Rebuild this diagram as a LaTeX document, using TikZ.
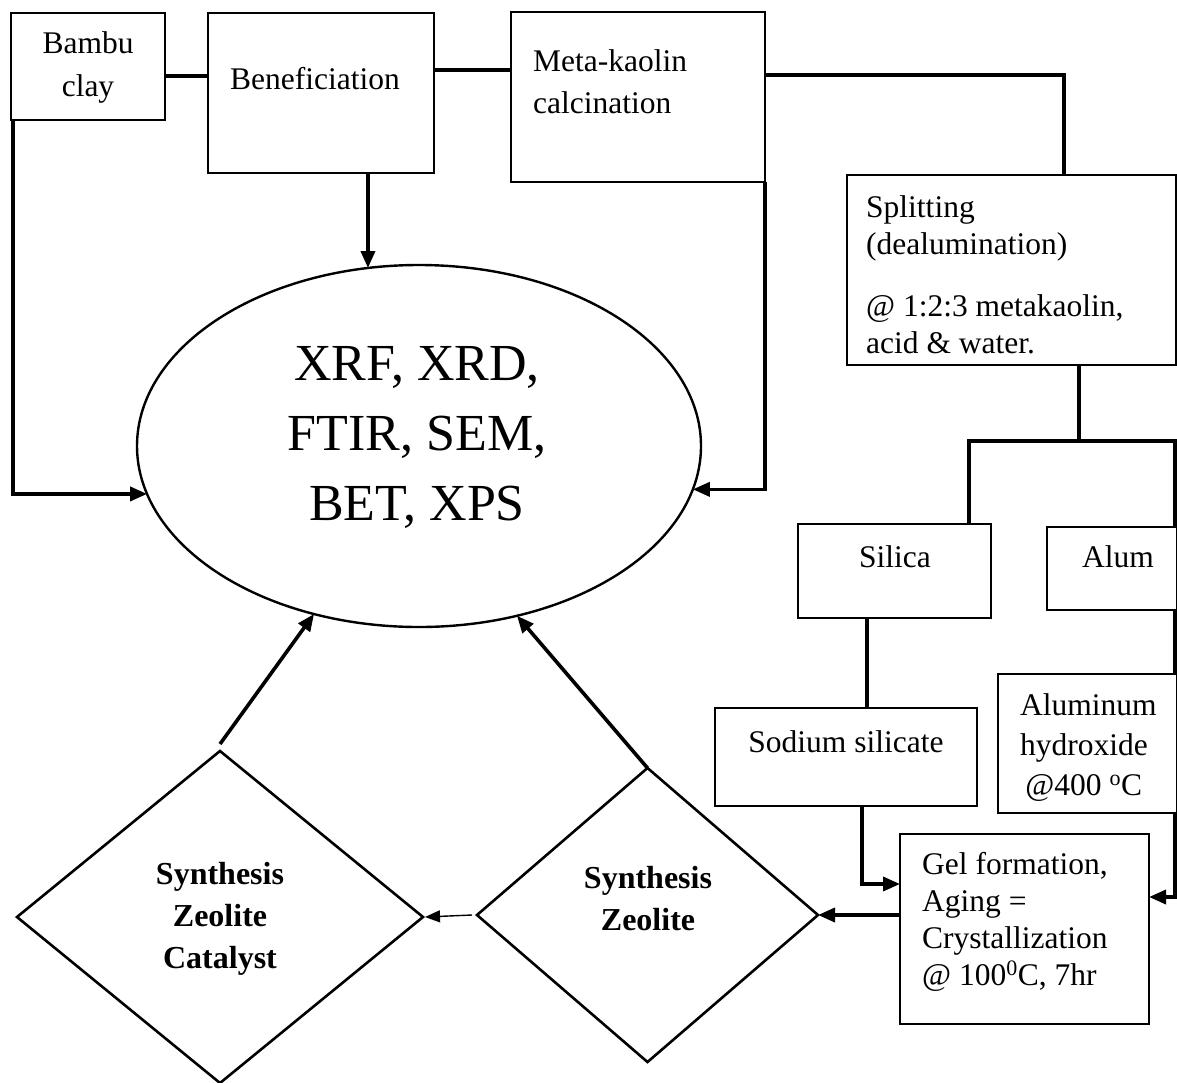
\documentclass[tikz,border=0pt]{standalone}
\usepackage{fontspec}
\setmainfont{Liberation Serif}
\usetikzlibrary{shapes.geometric,arrows.meta}
\begin{document}
\begin{tikzpicture}[x=1pt,y=-1pt,
  box/.style={draw, line width=2.6pt, rectangle, inner sep=0pt, outer sep=0pt},
  conn/.style={line width=3.6pt},
  arr/.style={line width=3.6pt, -{Triangle[length=17pt,width=14pt]}},
  tarr/.style={line width=1.4pt, -{Triangle[length=15pt,width=12pt]}},
  txt/.style={inner sep=0pt, font=\fontsize{31.5}{37}\selectfont},
  btxt/.style={inner sep=0pt, font=\fontsize{32}{42}\selectfont\bfseries},
  dia/.style={draw, diamond, line width=2.6pt, inner sep=0pt, outer sep=0pt},
]
\useasboundingbox (0,0) rectangle (1177,1082);

% boxes
\node[box, minimum width=154, minimum height=107] (bambu) at (88,66.5) {};
\node[box, minimum width=226, minimum height=160] (ben) at (321,93) {};
\node[box, minimum width=254, minimum height=170] (meta) at (638,97) {};
\node[box, minimum width=329, minimum height=190] (split) at (1011.5,270) {};
\node[box, minimum width=193, minimum height=94] (silica) at (894.5,571) {};
\node[box, minimum width=130, minimum height=83] (alum) at (1112,568.5) {};
\node[box, minimum width=262, minimum height=98] (sodium) at (846,757) {};
\node[box, minimum width=179, minimum height=139] (alhyd) at (1087.5,743.5) {};
\node[box, minimum width=249, minimum height=190] (gel) at (1024.5,929) {};

% ellipse and diamonds
\node[draw, ellipse, line width=2.4pt, minimum width=564, minimum height=362, inner sep=0pt, outer sep=0pt] (xrf) at (419,446) {};
\node[dia, minimum width=341, minimum height=294] (sz) at (647.5,915) {};
\node[dia, minimum width=406, minimum height=332] (cat) at (220,917) {};

% texts (base anchor = baseline of the last line)
\node[txt, align=center, anchor=base, font=\fontsize{31.5}{43}\selectfont] (bambut) at (88,96) {Bambu\\clay};
\node[txt, anchor=base] (bent) at (315,89) {Beneficiation};
\node[txt, align=left, anchor=base west, font=\fontsize{31.5}{42}\selectfont] (metat) at (533,113) {Meta-kaolin\\calcination};
\node[txt, align=left, anchor=base west] (splitt) at (866,353) {Splitting\\(dealumination)\\[25pt]@ 1:2:3 metakaolin,\\acid \& water.};
\node[txt, anchor=base] (silicat) at (895,567) {Silica};
\node[txt, anchor=base] (alumt) at (1118,567) {Alum};
\node[txt, anchor=base] (sodiumt) at (846,752) {Sodium silicate};
\node[txt, align=left, anchor=base west, font=\fontsize{31.5}{40}\selectfont] (alhydt) at (1020,795) {Aluminum\\hydroxide\\\,@400 \textsuperscript{o}C};
\node[txt, align=left, anchor=base west, font=\fontsize{31.5}{36.7}\selectfont] (gelt) at (922,985) {Gel formation,\\Aging =\\Crystallization\\@ 100\textsuperscript{0}C, 7hr};
\node[inner sep=0pt, align=center, anchor=base, font=\fontsize{52}{70}\selectfont] (xrft) at (417,520) {XRF, XRD,\\FTIR, SEM,\\BET, XPS};
\node[btxt, align=center, anchor=base] (szt) at (648,930) {Synthesis\\Zeolite};
\node[btxt, align=center, anchor=base] (catt) at (220,968) {Synthesis\\Zeolite\\Catalyst};

% connectors
\draw[conn] (bambu.east |- 0,76) -- (ben.west |- 0,76);
\draw[conn] (ben.east |- 0,70) -- (meta.west |- 0,70);
\coordinate (mk) at (1064,75);
\draw[conn] (meta.east |- mk) -- (mk) -- (mk |- split.north);
\draw[arr] (ben.south -| xrf.106) -- (xrf.106);
\draw[arr] (bambu.south -| 13,0) |- (xrf.190);
\draw[arr] (meta.south east) |- (xrf.351);

\coordinate (sj) at (1079,441);
\coordinate (sl) at (969,441);
\coordinate (sr) at (1175,441);
\draw[conn] (split.south -| sj) -- (sj);
\draw[conn] (silica.north -| sl) -- (sl) -- (sr) -- (alum.north -| sr);
\draw[conn] (silica.south -| 867,0) -- (sodium.north -| 867,0);
\draw[conn] (alum.south -| 1175,0) -- (alhyd.north -| 1175,0);
\draw[arr] (sodium.south -| 862,0) |- (gel.west |- 0,884);
\draw[arr] (alhyd.south -| 1175,0) |- (gel.east |- 0,897);
\draw[arr] (gel.west |- sz.east) -- (sz.east);
\draw[tarr] ([xshift=-5pt]sz.west) -- ([xshift=2pt]cat.east);
\draw[arr] ([yshift=7pt]cat.north) -- (xrf.238);
\draw[arr] (sz.north) -- (xrf.300);
\end{tikzpicture}
\end{document}
